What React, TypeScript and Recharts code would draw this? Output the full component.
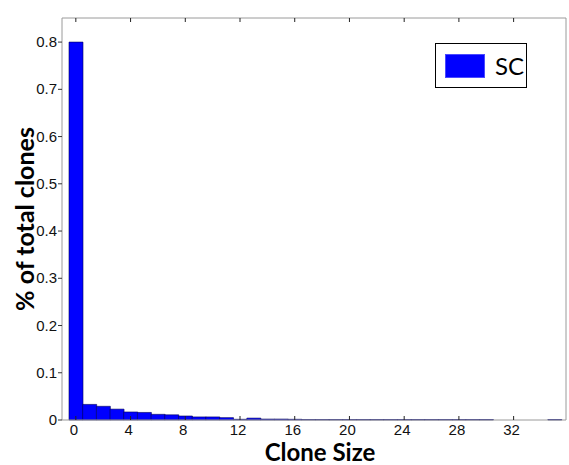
import { Bar, BarChart, XAxis, YAxis } from "recharts";

// clone size bins 0..35 and fraction of clones in each bin
const cloneSizes = Array.from({ length: 36 }, (_, i) => i);
const scFraction: (number | null)[] = [
    0.80, 0.033, 0.029, 0.023, 0.017, 0.016, 0.012, 0.011, 0.0085, 0.0065,
    0.0065, 0.005, 0.0015, 0.004, 0.002, 0.002, 0.0015, 0.001, 0.001, 0.001,
    0.001, 0.001, 0.001, 0.001, 0.001, 0.001, 0.001, 0.001, 0.001, 0.001,
    0.001, null, null, null, null, 0.001,
];
const yTicks = [0, 0.1, 0.2, 0.3, 0.4, 0.5, 0.6, 0.7, 0.8];
const seriesName = "SC";

const data = cloneSizes.map((size, i) => ({ size, sc: scFraction[i] }));

const tickFont = "'Liberation Sans', Arial, sans-serif";
const titleFont = "Lato, 'Open Sans', sans-serif";

const BottomTick = (props: any) => {
    const { x, y, payload } = props;
    return (
        <g>
            <line x1={x} x2={x} y1={y} y2={y - 4} stroke="#222" strokeWidth={1} />
            <text x={x - 2} y={y + 15} textAnchor="middle" fontSize={15} fontFamily={tickFont} fill="#111">
                {payload.value}
            </text>
        </g>
    );
};

const TopTick = (props: any) => {
    const { x, y } = props;
    return <line x1={x} x2={x} y1={y} y2={y + 4} stroke="#222" strokeWidth={1} />;
};

const LeftTick = (props: any) => {
    const { x, y, payload } = props;
    return (
        <g>
            <line x1={x - 4} x2={x} y1={y} y2={y} stroke="#333" strokeWidth={1} />
            <text x={x - 5} y={y + 5} textAnchor="end" fontSize={15} fontFamily={tickFont} fill="#111">
                {payload.value}
            </text>
        </g>
    );
};

const RightTick = (props: any) => {
    const { x, y } = props;
    return <line x1={x - 4} x2={x} y1={y} y2={y} stroke="#222" strokeWidth={1} />;
};

// legend box sits over the upper right of the plot
const LegendBox = () => (
    <div
        style={{
            position: "absolute",
            left: 435,
            top: 43,
            width: 90,
            height: 43,
            border: "1.5px solid #000",
            background: "#fff",
            display: "flex",
            alignItems: "center",
        }}
    >
        <div style={{ width: 40, height: 24, background: "#0000ff", border: "1px solid #4a4aff", marginLeft: 9, boxSizing: "border-box" }} />
        <span style={{ marginLeft: 10, fontSize: 24, fontFamily: titleFont, color: "#000" }}>{seriesName}</span>
    </div>
);

export default function App() {
    return (
        <div style={{ position: "absolute", left: 0, top: 0, width: 569, height: 465, background: "#fff" }}>
            <BarChart
                width={569}
                height={465}
                data={data}
                barCategoryGap={0}
                margin={{ top: 17, right: 0, bottom: 15, left: 0 }}
                accessibilityLayer={false}
            >
                <XAxis
                    dataKey="size"
                    interval={3}
                    height={30}
                    padding={{ left: 7, right: 4.5 }}
                    stroke="#9a9a9a"
                    tickLine={false}
                    tickSize={0}
                    tickMargin={0}
                    tick={<BottomTick />}
                    label={({ viewBox }: any) => (
                        <text
                            x={viewBox.x + 258}
                            y={viewBox.y + 41}
                            textAnchor="middle"
                            fontSize={24}
                            fontWeight={700}
                            fontFamily={titleFont}
                            fill="#000"
                        >
                            Clone Size
                        </text>
                    )}
                />
                <XAxis
                    xAxisId="top"
                    orientation="top"
                    dataKey="size"
                    interval={3}
                    height={1}
                    padding={{ left: 7, right: 4.5 }}
                    stroke="#9a9a9a"
                    tickLine={false}
                    tickSize={0}
                    tickMargin={0}
                    tick={<TopTick />}
                />
                <YAxis
                    domain={[0, 0.851]}
                    ticks={yTicks}
                    width={62}
                    stroke="#9a9a9a"
                    tickLine={false}
                    tickSize={0}
                    tickMargin={0}
                    tick={<LeftTick />}
                    label={({ viewBox }: any) => (
                        <text
                            x={24}
                            y={viewBox.y + viewBox.height / 2}
                            transform={`rotate(-90, 24, ${viewBox.y + viewBox.height / 2})`}
                            textAnchor="middle"
                            dominantBaseline="central"
                            fontSize={25}
                            fontWeight={700}
                            fontFamily={titleFont}
                            fill="#000"
                        >
                            % of total clones
                        </text>
                    )}
                />
                <YAxis
                    yAxisId="right"
                    orientation="right"
                    domain={[0, 0.851]}
                    ticks={yTicks}
                    width={3}
                    stroke="#9a9a9a"
                    tickLine={false}
                    tickSize={0}
                    tickMargin={0}
                    tick={<RightTick />}
                />
                <Bar
                    dataKey="sc"
                    name={seriesName}
                    fill="#0000ff"
                    stroke="#00005a"
                    strokeWidth={0.6}
                    isAnimationActive={false}
                />
            </BarChart>
            <LegendBox />
        </div>
    );
}
